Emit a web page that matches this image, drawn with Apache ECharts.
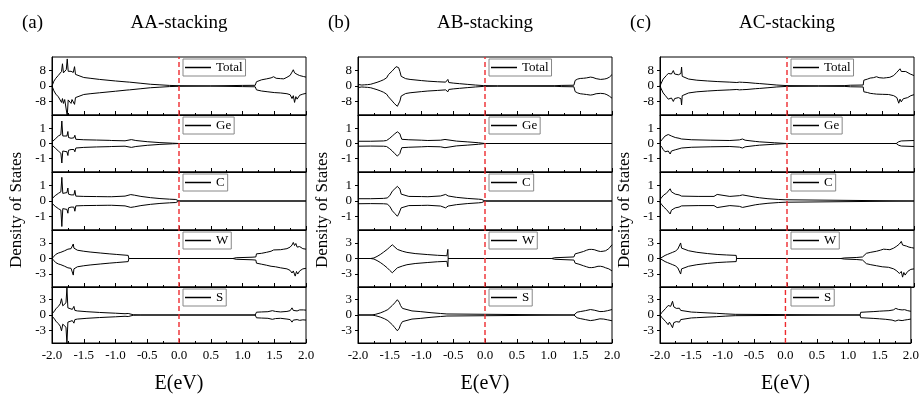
<!DOCTYPE html>
<html>
<head>
<meta charset="utf-8">
<title>DOS stacking</title>
<script src="https://cdn.jsdelivr.net/npm/echarts@6.0.0/dist/echarts.min.js"></script>
<style>
  html, body { margin: 0; padding: 0; background: #fff; }
  #chart { width: 922px; height: 395px; }
</style>
</head>
<body>
<div id="chart"></div>
<script>
// ---- data: [E (eV), DOS]; up = spin up, dn = spin down ----
const species = ["Total", "Ge", "C", "W", "S"];
const yLimit = [15, 1.9, 1.9, 5.5, 5.5];
const yTickValues = [[-8, 0, 8], [-1, 0, 1], [-1, 0, 1], [-3, 0, 3], [-3, 0, 3]];
const panelTags = ["(a)", "(b)", "(c)"];
const panelTitles = ["AA-stacking", "AB-stacking", "AC-stacking"];
const fermiLevel = 0;

// (a) AA-stacking
const aTotalUp = [[-2,0],[-1.97,2.5],[-1.94,4],[-1.9,5.5],[-1.87,6.2],[-1.85,7.5],[-1.835,11.5],[-1.82,6.8],[-1.79,7.2],[-1.775,8.5],[-1.76,14],[-1.745,7.6],[-1.72,7],[-1.7,7.6],[-1.68,8.2],[-1.665,7],[-1.645,10],[-1.63,6],[-1.6,5],[-1.5,4.4],[-1.4,4],[-1.25,3.4],[-1,2.6],[-0.82,2.1],[-0.8,2.7],[-0.78,2],[-0.6,1.4],[-0.45,0.9],[-0.3,0.6],[-0.15,0.3],[0,0.15],[0.5,0.05],[1,0.3],[1.2,0.35],[1.22,2.2],[1.3,3.2],[1.38,3.7],[1.45,4.2],[1.49,4.8],[1.53,4],[1.6,3.8],[1.65,3.7],[1.7,4.5],[1.75,5.5],[1.78,7.2],[1.8,8.4],[1.82,6.8],[1.84,7.6],[1.86,6],[1.9,5.4],[1.93,5.8],[1.96,4.9],[2,4.6]];
const aTotalDn = [[-2,0],[-1.97,-2.5],[-1.94,-4.2],[-1.9,-5.6],[-1.87,-6.5],[-1.85,-8.5],[-1.835,-6.5],[-1.82,-9],[-1.8,-7],[-1.775,-7.5],[-1.76,-15.5],[-1.745,-7.2],[-1.72,-7],[-1.7,-9],[-1.685,-7],[-1.665,-7.5],[-1.645,-9.5],[-1.63,-6],[-1.6,-5],[-1.5,-4.4],[-1.4,-4],[-1.25,-3.5],[-1,-2.7],[-0.82,-2.1],[-0.8,-2.7],[-0.78,-2],[-0.6,-1.4],[-0.45,-0.9],[-0.3,-0.6],[-0.15,-0.3],[0,-0.15],[0.5,-0.05],[1,-0.3],[1.2,-0.4],[1.22,-2],[1.3,-2.6],[1.4,-3],[1.5,-3.4],[1.6,-3.6],[1.7,-4],[1.75,-4.5],[1.78,-6.5],[1.8,-5],[1.82,-8.5],[1.84,-5.5],[1.86,-6.8],[1.9,-4.8],[1.95,-4.2],[2,-3.8]];
const aGeUp = [[-2,0.1],[-1.97,0.12],[-1.95,0.3],[-1.9,0.5],[-1.86,0.6],[-1.845,1.5],[-1.83,0.5],[-1.8,0.45],[-1.765,0.5],[-1.75,0.8],[-1.74,0.4],[-1.7,0.35],[-1.655,0.38],[-1.64,0.55],[-1.625,0.28],[-1.5,0.25],[-1.3,0.23],[-1.1,0.21],[-1.08,0.28],[-1.06,0.2],[-0.85,0.18],[-0.75,0.26],[-0.72,0.3],[-0.68,0.2],[-0.5,0.12],[-0.3,0.06],[-0.1,0.02],[0,0],[2,0]];
const aGeDn = [[-2,-0.1],[-1.97,-0.12],[-1.95,-0.3],[-1.9,-0.5],[-1.86,-0.65],[-1.845,-1.3],[-1.83,-0.5],[-1.8,-0.5],[-1.765,-0.55],[-1.75,-0.8],[-1.74,-0.45],[-1.7,-0.4],[-1.655,-0.4],[-1.64,-0.55],[-1.625,-0.3],[-1.5,-0.26],[-1.3,-0.23],[-1.1,-0.21],[-1.08,-0.28],[-1.06,-0.2],[-0.85,-0.18],[-0.75,-0.26],[-0.72,-0.3],[-0.68,-0.2],[-0.5,-0.12],[-0.3,-0.06],[-0.1,-0.02],[0,0],[2,0]];
const aCUp = [[-2,0.15],[-1.97,0.18],[-1.95,0.35],[-1.9,0.5],[-1.86,0.6],[-1.845,1.55],[-1.83,0.5],[-1.8,0.5],[-1.765,0.55],[-1.75,0.85],[-1.74,0.45],[-1.7,0.4],[-1.655,0.4],[-1.64,0.7],[-1.625,0.32],[-1.5,0.3],[-1.3,0.29],[-1.12,0.28],[-1.09,0.36],[-1.06,0.28],[-0.85,0.32],[-0.76,0.42],[-0.73,0.5],[-0.7,0.38],[-0.6,0.3],[-0.45,0.22],[-0.3,0.16],[-0.15,0.12],[-0.05,0.1],[-0.02,0.04],[0,0],[2,0]];
const aCDn = [[-2,-0.15],[-1.97,-0.18],[-1.95,-0.35],[-1.9,-0.5],[-1.86,-0.6],[-1.845,-1.67],[-1.83,-0.5],[-1.8,-0.5],[-1.765,-0.55],[-1.75,-0.8],[-1.74,-0.45],[-1.7,-0.4],[-1.655,-0.4],[-1.64,-0.67],[-1.625,-0.32],[-1.5,-0.3],[-1.3,-0.29],[-1.12,-0.28],[-1.09,-0.36],[-1.06,-0.28],[-0.85,-0.32],[-0.76,-0.42],[-0.73,-0.5],[-0.7,-0.38],[-0.6,-0.3],[-0.45,-0.22],[-0.3,-0.16],[-0.15,-0.12],[-0.05,-0.1],[-0.02,-0.04],[0,0],[2,0]];
const aWUp = [[-2,0],[-1.97,0.4],[-1.94,0.8],[-1.9,1.05],[-1.86,1.2],[-1.84,1.35],[-1.8,1.5],[-1.75,1.8],[-1.7,1.9],[-1.675,2.1],[-1.665,2.8],[-1.655,2],[-1.63,1.7],[-1.6,1.6],[-1.5,1.4],[-1.4,1.25],[-1.24,1.06],[-1.1,0.9],[-0.98,0.78],[-0.85,0.65],[-0.8,0.6],[-0.79,0],[0.85,0],[0.9,0.15],[1.15,0.25],[1.21,0.3],[1.22,0.9],[1.3,1],[1.38,1.2],[1.45,1.4],[1.49,1.65],[1.52,1.5],[1.6,1.7],[1.65,1.8],[1.7,1.9],[1.75,2.2],[1.78,2.6],[1.8,3.1],[1.82,2.5],[1.84,2.9],[1.86,2.2],[1.9,2.3],[1.95,1.9],[2,1.8]];
const aWDn = [[-2,0],[-1.97,-0.4],[-1.94,-0.8],[-1.9,-1.05],[-1.86,-1.2],[-1.84,-1.35],[-1.8,-1.5],[-1.75,-1.8],[-1.7,-1.9],[-1.675,-2.2],[-1.665,-3.2],[-1.655,-2],[-1.63,-1.7],[-1.6,-1.6],[-1.5,-1.4],[-1.4,-1.25],[-1.24,-1.06],[-1.1,-0.9],[-0.98,-0.78],[-0.85,-0.65],[-0.8,-0.6],[-0.79,0],[0.85,0],[0.9,-0.15],[1.15,-0.25],[1.21,-0.3],[1.22,-0.9],[1.3,-1.1],[1.38,-1.3],[1.45,-1.5],[1.52,-1.6],[1.6,-1.8],[1.7,-2],[1.75,-2.3],[1.78,-2.8],[1.8,-2.4],[1.83,-3.4],[1.85,-2.5],[1.87,-3],[1.9,-2.4],[1.95,-2],[2,-1.9]];
const aSUp = [[-2,0.2],[-1.98,0.2],[-1.96,0.8],[-1.94,1.2],[-1.9,1.7],[-1.87,2.2],[-1.85,3.2],[-1.83,1.8],[-1.8,2],[-1.78,2.4],[-1.765,5.3],[-1.75,1.4],[-1.72,1.2],[-1.68,1.1],[-1.655,1.7],[-1.64,0.9],[-1.6,0.8],[-1.45,0.65],[-1.25,0.5],[-1,0.35],[-0.85,0.25],[-0.8,0.3],[-0.78,0.15],[-0.72,0.05],[-0.6,0],[1.2,0],[1.22,0.55],[1.3,0.6],[1.4,0.65],[1.47,0.85],[1.52,0.7],[1.6,0.6],[1.7,0.7],[1.75,0.85],[1.78,1.4],[1.8,0.9],[1.83,1],[1.86,0.8],[1.9,1],[1.93,0.85],[1.96,1],[2,0.95]];
const aSDn = [[-2,-0.2],[-1.98,-0.2],[-1.96,-0.8],[-1.94,-1.2],[-1.9,-1.7],[-1.87,-2.2],[-1.85,-3.1],[-1.83,-1.8],[-1.8,-2],[-1.78,-2.4],[-1.765,-5.6],[-1.75,-1.4],[-1.72,-1.2],[-1.68,-1.1],[-1.655,-1.6],[-1.64,-0.9],[-1.6,-0.8],[-1.45,-0.65],[-1.25,-0.5],[-1,-0.35],[-0.85,-0.25],[-0.8,-0.3],[-0.78,-0.15],[-0.72,-0.05],[-0.6,0],[1.2,0],[1.22,-0.55],[1.3,-0.6],[1.4,-0.65],[1.47,-0.85],[1.52,-0.7],[1.6,-0.65],[1.7,-0.8],[1.75,-0.9],[1.78,-1.4],[1.8,-1],[1.83,-1.1],[1.86,-0.9],[1.9,-1.05],[1.95,-0.95],[2,-1]];

// (b) AB-stacking
const bTotalUp = [[-2,0.8],[-1.97,0.7],[-1.94,0.5],[-1.9,0.6],[-1.85,0.7],[-1.8,0.9],[-1.75,1.4],[-1.7,1.9],[-1.65,2.5],[-1.6,3.2],[-1.55,4.2],[-1.53,5.2],[-1.52,5.9],[-1.5,6.5],[-1.46,7.8],[-1.43,8.8],[-1.4,10],[-1.38,10.5],[-1.36,9.5],[-1.34,7.5],[-1.32,5],[-1.3,4.3],[-1.25,3.8],[-1.18,3.4],[-1,2.8],[-0.9,2.5],[-0.75,2.2],[-0.62,2],[-0.6,2.3],[-0.585,3.4],[-0.57,1.8],[-0.5,1.5],[-0.4,1.2],[-0.28,0.85],[-0.15,0.5],[-0.02,0.2],[0.2,0.1],[1.1,0.15],[1.2,0.3],[1.4,0.4],[1.42,2.9],[1.46,3.6],[1.5,3.9],[1.55,4],[1.6,4.2],[1.66,4.6],[1.7,4.4],[1.75,3.8],[1.82,3.4],[1.88,3.6],[1.92,3.9],[1.96,4.6],[2,5.9]];
const bTotalDn = [[-2,-0.8],[-1.97,-0.7],[-1.94,-0.5],[-1.9,-0.6],[-1.85,-0.7],[-1.8,-0.9],[-1.75,-1.4],[-1.7,-1.9],[-1.65,-2.5],[-1.6,-3.2],[-1.55,-4.2],[-1.53,-4.8],[-1.52,-5.6],[-1.5,-6.4],[-1.46,-7.8],[-1.43,-9],[-1.4,-10],[-1.38,-10.5],[-1.36,-9.6],[-1.34,-7.8],[-1.32,-5.2],[-1.3,-4.4],[-1.25,-3.9],[-1.18,-3.5],[-1,-2.9],[-0.9,-2.6],[-0.75,-2.3],[-0.62,-2],[-0.6,-2.3],[-0.585,-3],[-0.57,-1.8],[-0.5,-1.5],[-0.4,-1.2],[-0.28,-0.85],[-0.15,-0.5],[-0.02,-0.2],[0.2,-0.1],[1.1,-0.15],[1.2,-0.3],[1.4,-0.4],[1.42,-2.9],[1.46,-3.6],[1.5,-4],[1.55,-4.2],[1.6,-4.4],[1.66,-4.7],[1.7,-4.5],[1.75,-4],[1.82,-3.8],[1.88,-4],[1.92,-4.5],[1.96,-5.3],[2,-6.3]];
const bGeUp = [[-2,0.15],[-1.8,0.15],[-1.6,0.17],[-1.55,0.2],[-1.54,0.3],[-1.53,0.2],[-1.5,0.35],[-1.46,0.5],[-1.42,0.65],[-1.38,0.78],[-1.36,0.7],[-1.34,0.65],[-1.33,0.5],[-1.31,0.28],[-1.2,0.25],[-1,0.22],[-0.9,0.2],[-0.7,0.22],[-0.63,0.27],[-0.6,0.22],[-0.45,0.16],[-0.28,0.11],[-0.1,0.05],[0,0],[2,0]];
const bGeDn = [[-2,-0.18],[-1.8,-0.17],[-1.6,-0.18],[-1.55,-0.2],[-1.54,-0.3],[-1.53,-0.2],[-1.5,-0.35],[-1.46,-0.5],[-1.42,-0.68],[-1.38,-0.84],[-1.36,-0.72],[-1.34,-0.66],[-1.33,-0.5],[-1.31,-0.28],[-1.2,-0.25],[-1,-0.22],[-0.9,-0.2],[-0.7,-0.22],[-0.63,-0.28],[-0.6,-0.22],[-0.45,-0.16],[-0.28,-0.11],[-0.1,-0.05],[0,0],[2,0]];
const bCUp = [[-2,0.15],[-1.8,0.15],[-1.6,0.17],[-1.54,0.2],[-1.53,0.3],[-1.52,0.2],[-1.5,0.35],[-1.46,0.64],[-1.42,0.8],[-1.38,0.96],[-1.36,0.85],[-1.34,0.78],[-1.32,0.45],[-1.3,0.32],[-1.2,0.3],[-1,0.29],[-0.9,0.28],[-0.7,0.33],[-0.62,0.43],[-0.58,0.33],[-0.45,0.24],[-0.28,0.17],[-0.1,0.12],[-0.05,0.1],[-0.02,0.05],[0,0],[2,0]];
const bCDn = [[-2,-0.18],[-1.8,-0.17],[-1.6,-0.18],[-1.54,-0.2],[-1.53,-0.3],[-1.52,-0.2],[-1.5,-0.35],[-1.46,-0.64],[-1.42,-0.82],[-1.38,-1],[-1.36,-0.86],[-1.34,-0.78],[-1.32,-0.45],[-1.3,-0.32],[-1.2,-0.3],[-1,-0.29],[-0.9,-0.28],[-0.7,-0.33],[-0.62,-0.45],[-0.58,-0.33],[-0.45,-0.24],[-0.28,-0.17],[-0.1,-0.12],[-0.05,-0.1],[-0.02,-0.05],[0,0],[2,0]];
const bWUp = [[-2,0],[-1.8,0],[-1.75,0.1],[-1.7,0.4],[-1.65,0.76],[-1.6,1.2],[-1.54,1.76],[-1.5,2.2],[-1.46,2.65],[-1.43,2.3],[-1.38,1.76],[-1.3,1.4],[-1.23,1.18],[-1.1,0.95],[-0.91,0.76],[-0.75,0.62],[-0.6,0.53],[-0.59,0.53],[-0.585,1.76],[-0.58,0],[1.05,0],[1.1,0.15],[1.4,0.3],[1.42,0.9],[1.48,1.1],[1.55,1.35],[1.6,1.6],[1.64,1.75],[1.68,1.76],[1.72,1.7],[1.78,1.45],[1.82,1.35],[1.86,1.4],[1.9,1.5],[1.95,1.9],[2,2.65]];
const bWDn = [[-2,0],[-1.8,0],[-1.75,-0.1],[-1.7,-0.4],[-1.65,-0.76],[-1.6,-1.2],[-1.54,-1.8],[-1.5,-2.3],[-1.46,-2.75],[-1.43,-2.4],[-1.38,-1.8],[-1.3,-1.45],[-1.23,-1.2],[-1.1,-0.97],[-0.91,-0.78],[-0.75,-0.63],[-0.6,-0.55],[-0.59,-0.55],[-0.585,-1.6],[-0.58,0],[1.05,0],[1.1,-0.15],[1.4,-0.3],[1.42,-0.9],[1.48,-1.1],[1.55,-1.4],[1.6,-1.6],[1.64,-1.75],[1.68,-1.76],[1.72,-1.7],[1.78,-1.5],[1.82,-1.5],[1.86,-1.6],[1.9,-1.8],[1.95,-2],[2,-2.4]];
const bSUp = [[-2,0],[-1.78,0],[-1.72,0.15],[-1.65,0.4],[-1.58,0.75],[-1.53,1.07],[-1.46,1.87],[-1.42,2.4],[-1.38,3],[-1.35,2.5],[-1.33,1.87],[-1.3,1.3],[-1.28,1],[-1.15,0.8],[-1.02,0.67],[-0.85,0.45],[-0.7,0.3],[-0.6,0.2],[-0.59,0.25],[-0.58,0],[1.4,0],[1.42,0.3],[1.45,0.55],[1.5,0.67],[1.58,0.85],[1.66,1.07],[1.72,0.95],[1.81,0.67],[1.87,0.7],[1.93,0.85],[2,1.07]];
const bSDn = [[-2,0],[-1.78,0],[-1.72,-0.15],[-1.65,-0.4],[-1.58,-0.75],[-1.53,-1.1],[-1.46,-1.9],[-1.42,-2.5],[-1.38,-3.1],[-1.35,-2.6],[-1.33,-1.9],[-1.3,-1.3],[-1.28,-1],[-1.15,-0.8],[-1.02,-0.67],[-0.85,-0.45],[-0.7,-0.3],[-0.6,-0.2],[-0.59,-0.25],[-0.58,0],[1.4,0],[1.42,-0.3],[1.45,-0.55],[1.5,-0.7],[1.58,-0.9],[1.66,-1.1],[1.72,-1],[1.81,-0.75],[1.87,-0.8],[1.93,-0.95],[2,-1.13]];

// (c) AC-stacking
const cTotalUp = [[-2,0],[-1.98,1.5],[-1.95,3.6],[-1.92,4.6],[-1.9,5.4],[-1.87,6.5],[-1.84,7.1],[-1.82,6.2],[-1.8,6.8],[-1.79,8],[-1.77,6.2],[-1.74,5.4],[-1.71,5.8],[-1.69,6.2],[-1.67,6.5],[-1.66,9.8],[-1.65,5],[-1.63,4.1],[-1.55,3.6],[-1.42,3],[-1.25,2.6],[-1.1,2.3],[-0.9,2],[-0.79,1.8],[-0.75,2],[-0.72,2.3],[-0.7,1.9],[-0.67,2.2],[-0.63,1.8],[-0.5,1.4],[-0.43,1.25],[-0.3,0.9],[-0.16,0.5],[0,0.2],[0.5,0.1],[0.9,0.2],[1,0.4],[1.2,0.5],[1.21,3],[1.27,3.6],[1.31,4.1],[1.36,4.3],[1.41,4.8],[1.45,4.3],[1.52,4.1],[1.57,4.3],[1.62,4.5],[1.68,5.4],[1.73,7.1],[1.76,7.8],[1.78,8.9],[1.8,7.5],[1.83,7.1],[1.87,7.5],[1.9,6.5],[1.94,6.2],[1.97,5.8],[2,5.4]];
const cTotalDn = [[-2,0],[-1.98,-1.5],[-1.95,-3.6],[-1.92,-4.8],[-1.9,-5.6],[-1.87,-6.8],[-1.84,-7.5],[-1.82,-6.2],[-1.8,-7],[-1.79,-8],[-1.77,-6.5],[-1.74,-7.2],[-1.71,-6],[-1.69,-7],[-1.67,-6.6],[-1.66,-9.8],[-1.65,-5],[-1.63,-4.1],[-1.55,-3.6],[-1.42,-3],[-1.25,-2.6],[-1.1,-2.3],[-0.9,-2],[-0.79,-1.8],[-0.75,-2],[-0.72,-2.3],[-0.7,-1.9],[-0.67,-2.2],[-0.63,-1.8],[-0.5,-1.4],[-0.43,-1.25],[-0.3,-0.9],[-0.16,-0.5],[0,-0.2],[0.5,-0.1],[0.9,-0.2],[1,-0.4],[1.2,-0.5],[1.21,-3],[1.27,-3.4],[1.31,-3.8],[1.36,-4],[1.41,-4.2],[1.5,-4.3],[1.6,-4.4],[1.68,-5],[1.73,-6],[1.76,-8.9],[1.78,-6.8],[1.8,-8.2],[1.83,-6.6],[1.86,-7.2],[1.9,-6],[1.95,-5],[2,-4.5]];
const cGeUp = [[-2,0.1],[-1.97,0.25],[-1.95,0.38],[-1.92,0.5],[-1.9,0.55],[-1.87,0.6],[-1.84,0.64],[-1.82,0.5],[-1.8,0.55],[-1.79,0.38],[-1.76,0.4],[-1.74,0.38],[-1.7,0.35],[-1.67,0.4],[-1.66,0.3],[-1.5,0.25],[-1.21,0.22],[-0.9,0.2],[-0.75,0.24],[-0.7,0.3],[-0.66,0.22],[-0.5,0.14],[-0.43,0.11],[-0.2,0.05],[0,0],[1.72,0],[1.76,0.12],[1.8,0.17],[2,0.2]];
const cGeDn = [[-2,-0.1],[-1.97,-0.25],[-1.95,-0.4],[-1.92,-0.55],[-1.9,-0.6],[-1.87,-0.5],[-1.84,-0.7],[-1.82,-0.5],[-1.8,-0.62],[-1.79,-0.4],[-1.76,-0.42],[-1.74,-0.38],[-1.7,-0.35],[-1.67,-0.42],[-1.66,-0.3],[-1.5,-0.25],[-1.21,-0.22],[-0.9,-0.2],[-0.75,-0.24],[-0.7,-0.3],[-0.66,-0.22],[-0.5,-0.14],[-0.43,-0.11],[-0.2,-0.05],[0,0],[1.72,0],[1.76,-0.12],[1.8,-0.17],[2,-0.2]];
const cCUp = [[-2,0.1],[-1.97,0.25],[-1.94,0.4],[-1.9,0.5],[-1.87,0.6],[-1.84,0.8],[-1.82,0.6],[-1.8,0.7],[-1.79,0.53],[-1.76,0.45],[-1.74,0.42],[-1.7,0.4],[-1.67,0.45],[-1.66,0.32],[-1.4,0.3],[-1.15,0.3],[-1.12,0.36],[-1.1,0.43],[-1.08,0.32],[-0.9,0.3],[-0.75,0.35],[-0.7,0.4],[-0.69,0.47],[-0.67,0.35],[-0.5,0.25],[-0.43,0.21],[-0.3,0.15],[-0.13,0.1],[-0.03,0.08],[0,0],[2,0]];
const cCDn = [[-2,-0.1],[-1.97,-0.25],[-1.94,-0.4],[-1.9,-0.55],[-1.87,-0.65],[-1.84,-0.85],[-1.82,-0.6],[-1.8,-0.72],[-1.79,-0.55],[-1.76,-0.45],[-1.74,-0.42],[-1.7,-0.4],[-1.67,-0.45],[-1.66,-0.32],[-1.4,-0.3],[-1.15,-0.3],[-1.12,-0.36],[-1.1,-0.43],[-1.08,-0.32],[-0.9,-0.3],[-0.75,-0.35],[-0.7,-0.42],[-0.69,-0.5],[-0.67,-0.35],[-0.5,-0.25],[-0.43,-0.21],[-0.3,-0.15],[-0.13,-0.1],[-0.03,-0.08],[0,0],[2,0]];
const cWUp = [[-2,0],[-1.97,0.3],[-1.92,0.6],[-1.88,0.8],[-1.84,1],[-1.8,1.2],[-1.76,1.4],[-1.72,1.8],[-1.69,2.1],[-1.675,3],[-1.66,2],[-1.63,1.8],[-1.55,1.5],[-1.42,1.2],[-1.25,0.95],[-1.1,0.78],[-0.95,0.68],[-0.8,0.6],[-0.795,0],[0.85,0],[0.9,0.1],[1.1,0.2],[1.19,0.3],[1.2,0.6],[1.25,1],[1.32,1.2],[1.41,1.4],[1.47,1.6],[1.52,1.8],[1.57,1.75],[1.62,1.7],[1.68,2],[1.73,2.4],[1.77,2.8],[1.8,3.3],[1.82,2.6],[1.85,2.9],[1.88,2.4],[1.92,2.2],[1.96,2.1],[2,2]];
const cWDn = [[-2,0],[-1.97,-0.3],[-1.92,-0.6],[-1.88,-0.8],[-1.84,-1],[-1.8,-1.2],[-1.76,-1.4],[-1.72,-1.8],[-1.69,-2.1],[-1.675,-3],[-1.66,-2],[-1.63,-1.8],[-1.55,-1.5],[-1.42,-1.2],[-1.25,-0.95],[-1.1,-0.78],[-0.95,-0.68],[-0.8,-0.6],[-0.795,0],[0.85,0],[0.9,-0.1],[1.1,-0.2],[1.19,-0.3],[1.2,-0.6],[1.25,-1],[1.32,-1.2],[1.41,-1.4],[1.5,-1.6],[1.6,-1.7],[1.68,-2],[1.73,-2.4],[1.77,-2.9],[1.8,-2.5],[1.82,-3.6],[1.84,-2.7],[1.86,-3.2],[1.9,-2.5],[1.95,-2.1],[2,-2]];
const cSUp = [[-2,0],[-1.97,0.5],[-1.95,0.87],[-1.91,1.3],[-1.87,1.87],[-1.85,1.5],[-1.83,1.7],[-1.8,2.7],[-1.78,1.6],[-1.76,1.5],[-1.74,1.3],[-1.71,1.2],[-1.69,1.33],[-1.67,0.9],[-1.66,0.67],[-1.5,0.58],[-1.42,0.53],[-1.25,0.42],[-1.1,0.33],[-0.95,0.22],[-0.8,0.13],[-0.78,0],[1.19,0],[1.2,0.53],[1.3,0.6],[1.41,0.67],[1.5,0.75],[1.57,0.8],[1.65,0.85],[1.72,1],[1.76,1.3],[1.78,1.5],[1.8,1.1],[1.83,1.25],[1.86,1],[1.9,1.05],[1.95,0.85],[2,0.73]];
const cSDn = [[-2,0],[-1.97,-0.5],[-1.95,-0.87],[-1.91,-1.3],[-1.87,-1.9],[-1.85,-1.4],[-1.83,-1.8],[-1.8,-2.5],[-1.78,-1.5],[-1.76,-1.6],[-1.74,-1.3],[-1.71,-1.2],[-1.69,-1.4],[-1.67,-0.9],[-1.66,-0.67],[-1.5,-0.58],[-1.42,-0.53],[-1.25,-0.42],[-1.1,-0.33],[-0.95,-0.22],[-0.8,-0.13],[-0.78,0],[1.19,0],[1.2,-0.53],[1.3,-0.6],[1.41,-0.67],[1.5,-0.75],[1.6,-0.85],[1.7,-1],[1.75,-1.2],[1.78,-1.33],[1.8,-1],[1.83,-1.3],[1.86,-1.1],[1.9,-1],[1.95,-0.9],[2,-0.8]];

const panelData = [
  [[aTotalUp, aTotalDn], [aGeUp, aGeDn], [aCUp, aCDn], [aWUp, aWDn], [aSUp, aSDn]],
  [[bTotalUp, bTotalDn], [bGeUp, bGeDn], [bCUp, bCDn], [bWUp, bWDn], [bSUp, bSDn]],
  [[cTotalUp, cTotalDn], [cGeUp, cGeDn], [cCUp, cCDn], [cWUp, cWDn], [cSUp, cSDn]],
];

// ---- layout ----
const FONT = "'Liberation Serif', 'Times New Roman', serif";
const panelLeft = [52, 358, 660];
const plotWidth = 254;
const rowTop = [57, 115, 172, 230, 287];
const rowHeight = [58, 57, 58, 57, 58];

const grid = [], xAxis = [], yAxis = [], series = [], legend = [], graphic = [];

panelData.forEach((rows, p) => {
  rows.forEach(([up, dn], r) => {
    const gi = grid.length;
    const last = r === rows.length - 1;
    grid.push({
      left: panelLeft[p], top: rowTop[r], width: plotWidth, height: rowHeight[r],
      show: true, borderColor: "#000", borderWidth: 1, backgroundColor: "transparent",
    });
    xAxis.push({
      gridIndex: gi, type: "value", min: -2, max: 2, interval: 0.5,
      axisLine: { show: true, onZero: false, lineStyle: { color: "#000", width: 1 } },
      axisTick: { show: true, inside: true, length: 4, lineStyle: { color: "#000" } },
      minorTick: { show: true, splitNumber: 2, length: 2, lineStyle: { color: "#000" } },
      splitLine: { show: false },
      axisLabel: {
        show: last, color: "#000", fontSize: 13, fontFamily: FONT, margin: 6,
        formatter: (v) => v.toFixed(1),
      },
      name: last ? "E(eV)" : "",
      nameLocation: "middle", nameGap: 31,
      nameTextStyle: { color: "#000", fontSize: 20, fontFamily: FONT },
    });
    yAxis.push({
      gridIndex: gi, type: "value", min: -yLimit[r], max: yLimit[r],
      axisLine: { show: true, onZero: false, lineStyle: { color: "#000", width: 1 } },
      axisTick: { show: true, inside: false, length: 3, customValues: yTickValues[r], lineStyle: { color: "#000" } },
      axisLabel: { customValues: yTickValues[r], color: "#000", fontSize: 13, fontFamily: FONT, margin: 6 },
      splitLine: { show: false },
    });
    const base = {
      type: "line", name: species[r], xAxisIndex: gi, yAxisIndex: gi,
      symbol: "none", showSymbol: false, silent: true, animation: false,
      lineStyle: { color: "#000", width: 1 }, itemStyle: { color: "#000" },
    };
    series.push({ ...base, data: up });
    series.push({ ...base, data: dn });
    // Fermi level: red dashed vertical line at E = 0
    series.push({
      type: "line", xAxisIndex: gi, yAxisIndex: gi, z: 4,
      data: [[fermiLevel, -yLimit[r]], [fermiLevel, yLimit[r]]],
      symbol: "none", showSymbol: false, silent: true, animation: false,
      lineStyle: { color: "#ee2a2e", width: 1.4, type: [5, 3] },
    });
    legend.push({
      left: panelLeft[p] + 131, top: rowTop[r] + 2,
      data: [species[r]], selectedMode: false,
      icon: "rect", itemWidth: 26, itemHeight: 1.5, itemGap: 0, padding: [2, 3, 2, 2],
      borderColor: "#888", borderWidth: 1, backgroundColor: "#fff",
      textStyle: { color: "#000", fontSize: 13, fontFamily: FONT },
    });
  });

  graphic.push({
    type: "text", x: panelLeft[p] - 30, y: 23,
    style: { text: panelTags[p], fill: "#000", font: `19px ${FONT}`, textAlign: "left", textVerticalAlign: "middle" },
  });
  graphic.push({
    type: "text", x: panelLeft[p] + plotWidth / 2, y: 23,
    style: { text: panelTitles[p], fill: "#000", font: `19px ${FONT}`, textAlign: "center", textVerticalAlign: "middle" },
  });
  graphic.push({
    type: "text", x: panelLeft[p] - 35.5, y: 210, rotation: Math.PI / 2,
    style: { text: "Density of States", fill: "#000", font: `17px ${FONT}`, textAlign: "center", textVerticalAlign: "middle" },
  });
});

const chart = echarts.init(document.getElementById("chart"));
chart.setOption({
  backgroundColor: "#fff",
  animation: false,
  grid, xAxis, yAxis, series, legend, graphic,
});
</script>
</body>
</html>
